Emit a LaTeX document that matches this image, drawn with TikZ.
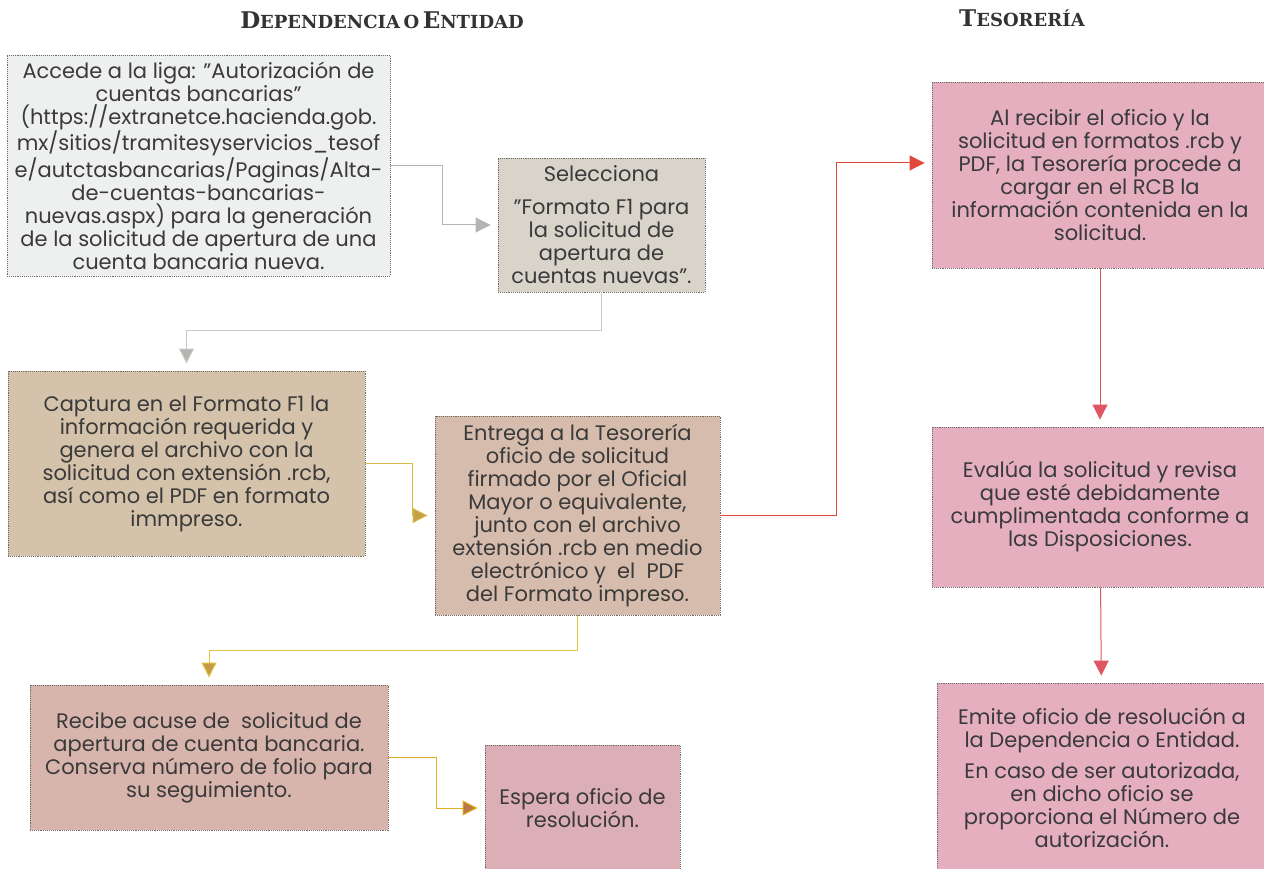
\documentclass[tikz,border=0pt]{standalone}
\usepackage{fontspec}
\setmainfont{Poppins}
\newfontfamily\headfont{DejaVu Serif}
\usetikzlibrary{arrows.meta}

\definecolor{textgray}{HTML}{3A3A3A}
\definecolor{edgegray}{HTML}{6E6A66}
\definecolor{fillwhite}{HTML}{EEF0EF}
\definecolor{fillstone}{HTML}{D9D4CA}
\definecolor{filltan}{HTML}{D4C2AA}
\definecolor{fillrose}{HTML}{D6BCAC}
\definecolor{fillblush}{HTML}{D8B5AC}
\definecolor{fillpink}{HTML}{DCAEB6}
\definecolor{fillmagenta}{HTML}{E5AFC0}
\definecolor{linegray}{HTML}{B4B4B0}
\definecolor{linegold}{HTML}{D8B848}
\definecolor{headgold}{HTML}{C4A048}
\definecolor{lineyellow}{HTML}{E2C440}
\definecolor{headochre}{HTML}{C49A48}
\definecolor{lineamber}{HTML}{E0B020}
\definecolor{headbrown}{HTML}{B87A48}
\definecolor{linered}{HTML}{E0483A}
\definecolor{linepink}{HTML}{E05464}

\newcommand{\smcap}[2]{{\fontsize{23}{23}\selectfont #1}{\fontsize{18}{18}\selectfont #2}}

\begin{document}
\begin{tikzpicture}[x=1pt, y=-1pt,
	box/.style={draw=edgegray, densely dotted, line width=0.9pt, rectangle, inner sep=0pt,
		align=center, text=textgray, font=\fontsize{21}{23}\selectfont},
	link/.style={line width=1pt, shorten >=7pt}]
	
	\useasboundingbox (0,0) rectangle (1264,869);
	
	%Headers
	\node (HeadDep) at (382,20) {\headfont\bfseries\color{black!80}\smcap{D}{EPENDENCIA} \smcap{}{O} \smcap{E}{NTIDAD}};
	\node (HeadTes) at (1022,18) {\headfont\bfseries\color{black!80}\smcap{T}{ESORERÍA}};
	
	%Blocks
	\node (Accede) at (198.5,165.5) [box, fill=fillwhite, minimum width=383, minimum height=221]
	{Accede a la liga: "Autorización de\\ cuentas bancarias"\\ (https://extranetce.hacienda.gob.\\
		mx/sitios/tramitesyservicios\_tesof\\ e/autctasbancarias/Paginas/Alta-\\ de-cuentas-bancarias-\\
		nuevas.aspx) para la generación\\ de la solicitud de apertura de una\\ cuenta bancaria nueva.};
	\node (Selecciona) at (601.5,225) [box, fill=fillstone, minimum width=207, minimum height=134]
	{Selecciona\\[10pt] "Formato F1 para\\ la solicitud de\\ apertura de\\ cuentas nuevas".};
	\node (Captura) at (186.5,463.5) [box, fill=filltan, minimum width=357, minimum height=185]
	{Captura en el Formato F1 la\\ información requerida y\\ genera el archivo con la\\
		solicitud con extensión .rcb,\\ así como el PDF en formato\\ immpreso.};
	\node (Entrega) at (577.5,515.5) [box, fill=fillrose, minimum width=285, minimum height=199]
	{Entrega a la Tesorería\\ oficio de solicitud\\ firmado por el Oficial\\ Mayor o equivalente,\\
		junto con el archivo\\ extensión .rcb en medio\\ electrónico y~ el~ PDF\\ del Formato impreso.};
	\node (Recibe) at (209,757.5) [box, fill=fillblush, minimum width=358, minimum height=145]
	{Recibe acuse de~ solicitud de\\ apertura de cuenta bancaria.\\ Conserva número de folio para\\ su seguimiento.};
	\node (Espera) at (582.5,808) [box, fill=fillpink, minimum width=195, minimum height=126]
	{Espera oficio de\\ resolución.};
	\node (AlRecibir) at (1100,175) [box, fill=fillmagenta, minimum width=336, minimum height=186]
	{Al recibir el oficio y la\\ solicitud en formatos .rcb y\\ PDF, la Tesorería procede a\\
		cargar en el RCB la\\ información contenida en la\\ solicitud.};
	\node (Evalua) at (1100,507) [box, fill=fillmagenta, minimum width=336, minimum height=160]
	{Evalúa la solicitud y revisa\\ que esté debidamente\\ cumplimentada conforme a\\ las Disposiciones.};
	\node (Emite) at (1102,778) [box, fill=fillmagenta, minimum width=330, minimum height=190]
	{Emite oficio de resolución a\\ la Dependencia o Entidad.\\[8pt] En caso de ser autorizada,\\
		en dicho oficio se\\ proporciona el Número de\\ autorización.};
	
	%Links
	\draw[link, linegray, -{Triangle[length=15pt, width=15pt, fill=linegray]}]
	(Accede.east) -- ++(52,0) |- (Selecciona);
	\draw[link, linegray!70, -{Triangle[length=15pt, width=15pt, fill=linegray]}]
	(Selecciona.south) -- ++(0,38) -| (Captura);
	\draw[link, linegold, -{Triangle[length=15pt, width=15pt, fill=headgold]}]
	(Captura.east) -- ++(47,0) |- (Entrega);
	\draw[link, linered, -{Triangle[length=15pt, width=15pt, fill=linered]}]
	(Entrega.east) -- ++(116,0) |- ([yshift=12pt]AlRecibir.west);
	\draw[link, lineyellow, -{Triangle[length=15pt, width=15pt, fill=headochre]}]
	(Entrega.south) -- ++(0,35) -| (Recibe);
	\draw[link, lineamber, -{Triangle[length=15pt, width=15pt, fill=headbrown]}]
	(Recibe.east) -- ++(48,0) |- (Espera);
	\draw[link, linepink, -{Triangle[length=15pt, width=15pt, fill=linepink]}]
	(AlRecibir) -- (Evalua);
	\draw[link, linepink, -{Triangle[length=15pt, width=15pt, fill=linepink]}]
	(Evalua) -- (Emite);
	
\end{tikzpicture}
\end{document}
